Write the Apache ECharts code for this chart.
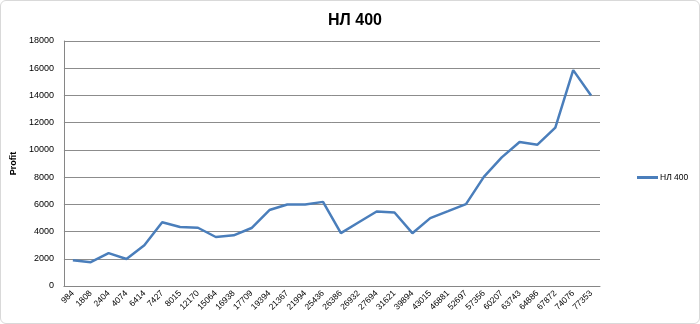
<!DOCTYPE html>
<html><head><meta charset="utf-8">
<script src="https://cdn.jsdelivr.net/npm/echarts@6/dist/echarts.min.js"></script>
<style>html,body{margin:0;padding:0;background:#fff}#c{width:698px;height:322px;border:1px solid #d9d9d9;border-radius:6px}</style>
</head><body><div id="c"></div>
<script>
const categories = ['984','1808','2404','4074','6414','7427','8015','12170','15064','16938','17709','19394','21367','21994','25436','26386','26932','27694','31621','39894','43015','46881','52697','57356','60207','63743','64886','67872','74076','77353'];
const profit = [1900,1750,2420,1980,3000,4680,4340,4280,3600,3720,4260,5580,5990,5990,6180,3880,4680,5470,5400,3880,4990,5500,6020,8020,9450,10580,10380,11640,15860,14000];
const seriesName = 'НЛ 400';
const chart = echarts.init(document.getElementById('c'));
chart.setOption({
  animation: false,
  title: {text: 'НЛ 400', left: 349, top: 7, textAlign: 'center',
    textStyle: {fontFamily: 'Liberation Sans', fontWeight: 'bold', fontSize: 16, color: '#000'}},
  legend: {left: 636, top: 172, padding: 0, orient: 'vertical', itemWidth: 21, itemHeight: 3, itemGap: 2,
    icon: 'rect', textStyle: {fontFamily: 'Liberation Sans', fontSize: 8.5, color: '#000', padding: [0, 0, 0, -3]}, data: [seriesName]},
  grid: {left: 62, right: 99, top: 40, bottom: 37, containLabel: false},
  xAxis: {type: 'category', data: categories, boundaryGap: true,
    axisLine: {lineStyle: {color: '#868686'}}, axisTick: {show: false},
    axisLabel: {rotate: 45, interval: 0, fontSize: 8.5, fontFamily: 'Liberation Sans', color: '#000', margin: 6}},
  yAxis: {type: 'value', min: 0, max: 18000, interval: 2000, name: 'Profit', nameLocation: 'middle', nameGap: 44,
    nameRotate: 90, nameTextStyle: {fontFamily: 'Liberation Sans', fontWeight: 'bold', fontSize: 9, color: '#000'},
    axisLine: {show: true, lineStyle: {color: '#868686'}}, axisTick: {show: false},
    splitLine: {lineStyle: {color: '#8c8c8c'}},
    axisLabel: {fontSize: 9, fontFamily: 'Liberation Sans', color: '#000', margin: 10, formatter: v => String(v)}},
  series: [{name: seriesName, type: 'line', data: profit, symbol: 'none', color: '#4a7ebb',
    lineStyle: {width: 2.5, color: '#4a7ebb'}}]
});
</script></body></html>
